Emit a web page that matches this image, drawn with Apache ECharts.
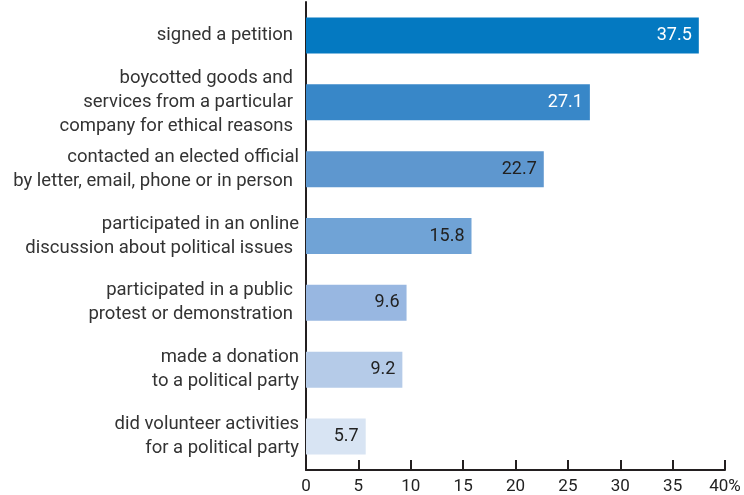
<!DOCTYPE html>
<html>
<head>
<meta charset="utf-8">
<script src="https://cdn.jsdelivr.net/npm/echarts@6/dist/echarts.min.js"></script>
<style>
  html, body { margin: 0; padding: 0; background: #fff; }
  #chart { width: 744px; height: 495px; }
</style>
</head>
<body>
<div id="chart"></div>
<script>
// Share of respondents (%) who took part in each political activity
const categories = [
  'signed a petition',
  'boycotted goods and\nservices from a particular\ncompany for ethical reasons',
  'contacted an elected official\nby letter, email, phone or in person',
  'participated in an online\ndiscussion about political issues',
  'participated in a public\nprotest or demonstration',
  'made a donation\nto a political party',
  'did volunteer activities\nfor a political party'
];
const values = [37.5, 27.1, 22.7, 15.8, 9.6, 9.2, 5.7];
const barColors = ['#0479c1', '#3887c8', '#5e97cf', '#70a3d6', '#98b7e1', '#b5cbe8', '#d8e4f3'];
const labelColors = ['#ffffff', '#ffffff', '#222222', '#222222', '#222222', '#222222', '#222222'];
const xTicks = [0, 5, 10, 15, 20, 25, 30, 35, 40];

// lines set slightly further from the axis (typeset with a trailing space)
const indented = new Set([
  'signed a petition', 'boycotted goods and', 'services from a particular',
  'company for ethical reasons', 'by letter, email, phone or in person',
  'discussion about political issues', 'participated in a public', 'protest or demonstration'
]);

// categories read top-to-bottom, so reverse for the y axis
const yCats = categories.slice().reverse();
const yVals = values.slice().reverse();
const yBarColors = barColors.slice().reverse();
const yLabelColors = labelColors.slice().reverse();

const chart = echarts.init(document.getElementById('chart'), null, { renderer: 'canvas' });
chart.setOption({
  animation: false,
  grid: { left: 306, right: 19, top: 2, height: 468 },
  xAxis: {
    type: 'value',
    min: xTicks[0],
    max: xTicks[xTicks.length - 1],
    interval: 5,
    splitLine: { show: false },
    axisLine: { show: true, lineStyle: { color: '#231f20', width: 2 } },
    axisTick: { show: true, inside: true, length: 10, lineStyle: { color: '#231f20', width: 2 } },
    axisLabel: {
      color: '#222',
      fontFamily: 'Roboto',
      fontSize: 17,
      margin: 8,
      formatter: v => (v === xTicks[xTicks.length - 1] ? v + '%' : String(v))
    }
  },
  yAxis: {
    type: 'category',
    data: yCats,
    axisLine: { show: true, lineStyle: { color: '#231f20', width: 2 } },
    axisTick: { show: false },
    axisLabel: {
      margin: 7,
      formatter: s => s.split('\n').map(l => (indented.has(l) ? '{a|' + l + '}' : '{b|' + l + '}')).join('\n'),
      rich: {
        a: { color: '#333', fontFamily: 'Roboto', fontSize: 18.5, lineHeight: 24, padding: [0, 6, 0, 0] },
        b: { color: '#333', fontFamily: 'Roboto', fontSize: 18.5, lineHeight: 24 }
      }
    }
  },
  series: [{
    type: 'bar',
    data: yVals.map((v, i) => ({
      value: v,
      itemStyle: { color: yBarColors[i] },
      label: { color: yLabelColors[i] }
    })),
    barWidth: 36,
    label: {
      show: true,
      position: 'insideRight',
      distance: 7,
      fontFamily: 'Roboto',
      fontSize: 18,
      formatter: p => p.value.toFixed(1)
    }
  }]
});
</script>
</body>
</html>
